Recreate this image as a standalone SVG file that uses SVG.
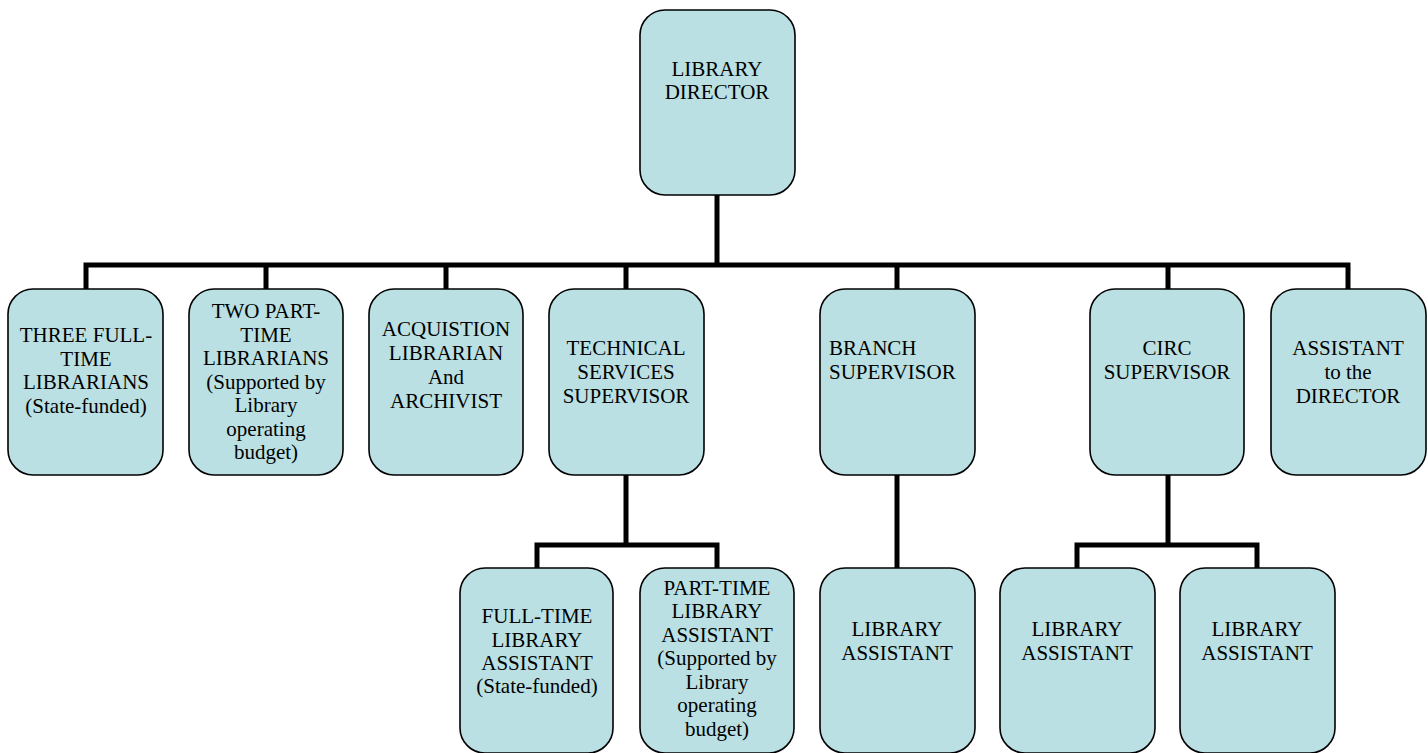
<svg xmlns="http://www.w3.org/2000/svg" width="1428" height="753" viewBox="0 0 1428 753">
<style>
.box{fill:#BBE0E3;stroke:#000;stroke-width:1.6}
.t{font-size:21px;fill:#000;text-anchor:middle}
.ts{text-anchor:start}
.c{fill:none;stroke:#000;stroke-width:5;stroke-linejoin:miter}
</style>
<rect width="1428" height="753" fill="#fff"/>
<g id="connectors">
<path class="c" d="M717,195 V265"/>
<path class="c" d="M86,289 V265 H1348 V289"/>
<path class="c" d="M266,265 V289 M446,265 V289 M626,265 V289 M897,265 V289 M1168,265 V289"/>
<path class="c" d="M626,475 V545"/>
<path class="c" d="M537,568 V545 H717 V568"/>
<path class="c" d="M897,475 V568"/>
<path class="c" d="M1168,475 V545"/>
<path class="c" d="M1077,568 V545 H1257 V568"/>
</g>
<g font-family="Times New Roman, Liberation Serif, Times, serif">
<g id="director">
<rect class="box" x="640" y="10" width="155" height="185" rx="25"/>
<text class="t" x="717" y="76">LIBRARY</text>
<text class="t" x="717" y="99">DIRECTOR</text>
</g>
<g id="three-full-time">
<rect class="box" x="8" y="289" width="155" height="186" rx="25"/>
<text class="t" x="86" y="342">THREE FULL-</text>
<text class="t" x="86" y="366">TIME</text>
<text class="t" x="86" y="389">LIBRARIANS</text>
<text class="t" x="86" y="413">(State-funded)</text>
</g>
<g id="two-part-time">
<rect class="box" x="189" y="289" width="154" height="186" rx="25"/>
<text class="t" x="266" y="318">TWO PART-</text>
<text class="t" x="266" y="342">TIME</text>
<text class="t" x="266" y="365">LIBRARIANS</text>
<text class="t" x="266" y="389">(Supported by</text>
<text class="t" x="266" y="412">Library</text>
<text class="t" x="266" y="436">operating</text>
<text class="t" x="266" y="459">budget)</text>
</g>
<g id="acquisition">
<rect class="box" x="369" y="289" width="154" height="186" rx="25"/>
<text class="t" x="446" y="336">ACQUISTION</text>
<text class="t" x="446" y="360">LIBRARIAN</text>
<text class="t" x="446" y="384">And</text>
<text class="t" x="446" y="408">ARCHIVIST</text>
</g>
<g id="technical">
<rect class="box" x="549" y="289" width="155" height="186" rx="25"/>
<text class="t" x="626" y="355">TECHNICAL</text>
<text class="t" x="626" y="379">SERVICES</text>
<text class="t" x="626" y="403">SUPERVISOR</text>
</g>
<g id="branch">
<rect class="box" x="820" y="289" width="155" height="186" rx="25"/>
<text class="t ts" x="829" y="355">BRANCH</text>
<text class="t ts" x="829" y="379">SUPERVISOR</text>
</g>
<g id="circ">
<rect class="box" x="1090" y="289" width="154" height="186" rx="25"/>
<text class="t" x="1167" y="355">CIRC</text>
<text class="t" x="1167" y="379">SUPERVISOR</text>
</g>
<g id="assistant-director">
<rect class="box" x="1271" y="289" width="155" height="186" rx="25"/>
<text class="t" x="1348" y="355">ASSISTANT</text>
<text class="t" x="1348" y="379">to the</text>
<text class="t" x="1348" y="403">DIRECTOR</text>
</g>
<g id="ft-assistant">
<rect class="box" x="460" y="568" width="153" height="185" rx="25"/>
<text class="t" x="537" y="623">FULL-TIME</text>
<text class="t" x="537" y="647">LIBRARY</text>
<text class="t" x="537" y="670">ASSISTANT</text>
<text class="t" x="537" y="693">(State-funded)</text>
</g>
<g id="pt-assistant">
<rect class="box" x="640" y="568" width="154" height="185" rx="25"/>
<text class="t" x="717" y="595">PART-TIME</text>
<text class="t" x="717" y="618">LIBRARY</text>
<text class="t" x="717" y="642">ASSISTANT</text>
<text class="t" x="717" y="665">(Supported by</text>
<text class="t" x="717" y="689">Library</text>
<text class="t" x="717" y="712">operating</text>
<text class="t" x="717" y="736">budget)</text>
</g>
<g id="branch-assistant">
<rect class="box" x="820" y="568" width="155" height="185" rx="25"/>
<text class="t" x="897" y="636">LIBRARY</text>
<text class="t" x="897" y="660">ASSISTANT</text>
</g>
<g id="circ-assistant-1">
<rect class="box" x="1000" y="568" width="155" height="185" rx="25"/>
<text class="t" x="1077" y="636">LIBRARY</text>
<text class="t" x="1077" y="660">ASSISTANT</text>
</g>
<g id="circ-assistant-2">
<rect class="box" x="1180" y="568" width="155" height="185" rx="25"/>
<text class="t" x="1257" y="636">LIBRARY</text>
<text class="t" x="1257" y="660">ASSISTANT</text>
</g>
</g>
</svg>
